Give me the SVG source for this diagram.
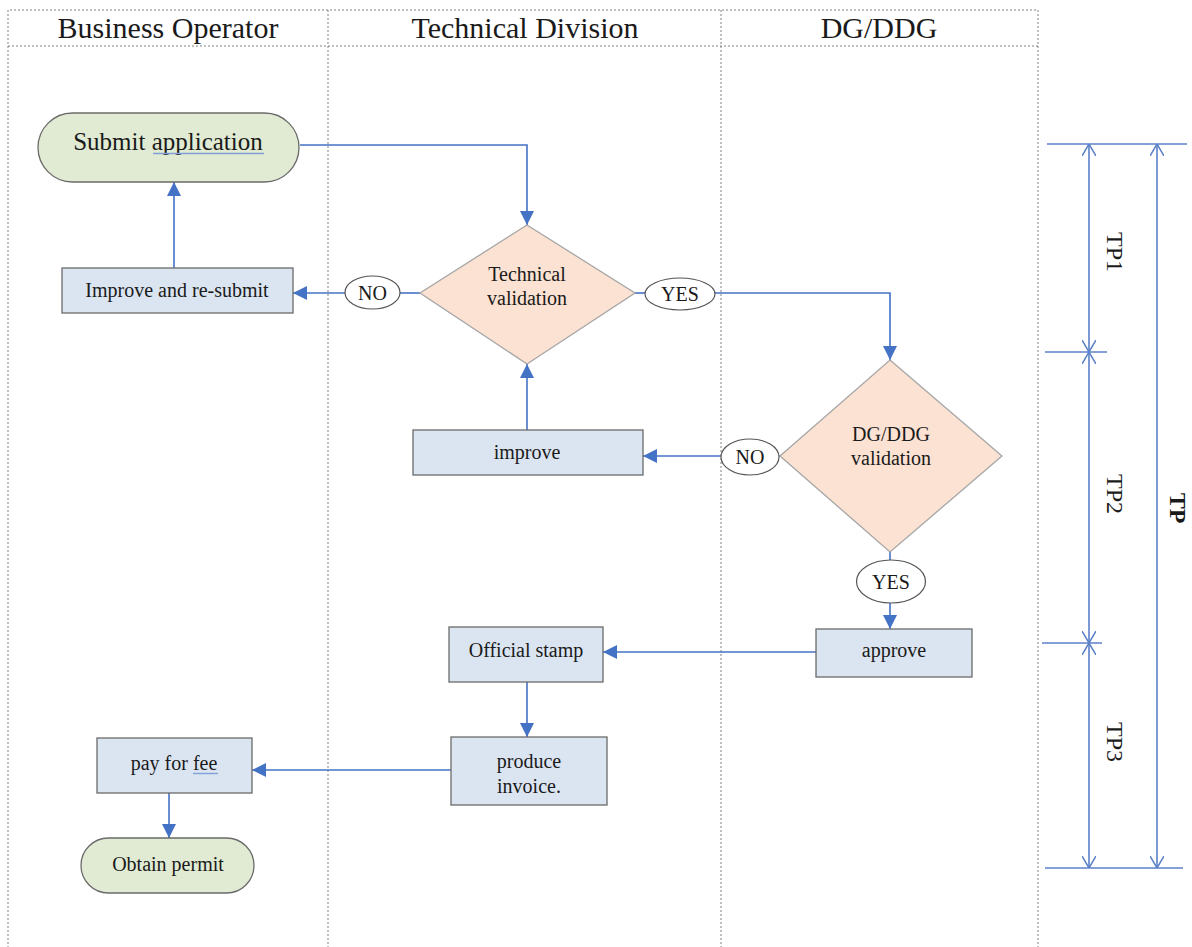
<svg xmlns="http://www.w3.org/2000/svg" width="1192" height="947" viewBox="0 0 1192 947">
  <defs>
    <style>
      .lane { fill: none; stroke: #808080; stroke-width: 1; stroke-dasharray: 2 2; }
      .hdr { font-family: "Liberation Serif", "Times New Roman", serif; font-size: 30px; fill: #1a1a1a; text-anchor: middle; }
      .txt { font-family: "Liberation Serif", "Times New Roman", serif; font-size: 20px; fill: #1a1a1a; text-anchor: middle; }
      .big { font-size: 25px; }
      .box { fill: #dbe5f1; stroke: #6b6b6b; stroke-width: 1.3; }
      .term { fill: #e1ebd3; stroke: #6b6b6b; stroke-width: 1.3; }
      .dec { fill: #fbe2d2; stroke: #a6a6a6; stroke-width: 1.3; }
      .lbl { fill: #ffffff; stroke: #555555; stroke-width: 1.2; }
      .conn { fill: none; stroke: #4472c4; stroke-width: 1.6; }
      .dim { fill: none; stroke: #5b80c8; stroke-width: 1.6; }
      .tp { font-family: "Liberation Serif", "Times New Roman", serif; font-size: 24px; fill: #1a1a1a; text-anchor: middle; }
      .squiggle { fill: none; stroke: #7f9fd6; stroke-width: 1.4; }
    </style>
    <marker id="arrow" markerUnits="userSpaceOnUse" viewBox="0 0 14 14" refX="14" refY="7" markerWidth="14" markerHeight="14" orient="auto">
      <path d="M0,0 L14,7 L0,14 z" fill="#4472c4"/>
    </marker>
    <marker id="open" markerUnits="userSpaceOnUse" viewBox="0 0 12 14" refX="12" refY="7" markerWidth="12" markerHeight="14" orient="auto-start-reverse">
      <path d="M0,0 L12,7 L0,14" fill="none" stroke="#5b80c8" stroke-width="1.5"/>
    </marker>
  </defs>

  <rect width="1192" height="947" fill="#ffffff"/>

  <!-- swimlanes -->
  <g id="lanes">
    <path class="lane" d="M8,960 V10 H1038 V960"/>
    <path class="lane" d="M8,46 H1038"/>
    <path class="lane" d="M328,10 V960"/>
    <path class="lane" d="M721,10 V960"/>
    <text class="hdr" x="168" y="38">Business Operator</text>
    <text class="hdr" x="525" y="38">Technical Division</text>
    <text class="hdr" x="879" y="38">DG/DDG</text>
  </g>

  <!-- connectors -->
  <g id="connectors">
    <path class="conn" d="M300,145 H527 V225" marker-end="url(#arrow)"/>
    <path class="conn" d="M420,293 H400"/>
    <path class="conn" d="M345,293 H293" marker-end="url(#arrow)"/>
    <path class="conn" d="M174,268 V182" marker-end="url(#arrow)"/>
    <path class="conn" d="M635,293 H645"/>
    <path class="conn" d="M715,293 H890 V360" marker-end="url(#arrow)"/>
    <path class="conn" d="M780,456 H779"/>
    <path class="conn" d="M721,456 H643" marker-end="url(#arrow)"/>
    <path class="conn" d="M527,430 V364" marker-end="url(#arrow)"/>
    <path class="conn" d="M890,552 V560"/>
    <path class="conn" d="M890,603 V629" marker-end="url(#arrow)"/>
    <path class="conn" d="M816,652 H603" marker-end="url(#arrow)"/>
    <path class="conn" d="M527,682 V737" marker-end="url(#arrow)"/>
    <path class="conn" d="M451,770 H252" marker-end="url(#arrow)"/>
    <path class="conn" d="M169,793 V838" marker-end="url(#arrow)"/>
  </g>

  <!-- nodes -->
  <g id="submit">
    <rect class="term" x="38" y="113" width="261" height="69" rx="34.5"/>
    <text class="txt big" x="168" y="150">Submit application</text>
    <path class="squiggle" d="M153,153.5 H264"/>
  </g>
  <g id="resubmit">
    <rect class="box" x="62" y="268" width="231" height="45"/>
    <text class="txt" x="177" y="297">Improve and re-submit</text>
  </g>
  <g id="no-tech">
    <ellipse class="lbl" cx="372.5" cy="292.5" rx="27.5" ry="16.5"/>
    <text class="txt" x="372.5" y="300">NO</text>
  </g>
  <g id="tech-validation">
    <polygon class="dec" points="527,225 635,293 527,364 420,293"/>
    <text class="txt" x="527" y="281">Technical</text>
    <text class="txt" x="527" y="305">validation</text>
  </g>
  <g id="yes-tech">
    <ellipse class="lbl" cx="680" cy="294" rx="35" ry="16"/>
    <text class="txt" x="680" y="301">YES</text>
  </g>
  <g id="improve">
    <rect class="box" x="413" y="430" width="230" height="45"/>
    <text class="txt" x="527" y="459">improve</text>
  </g>
  <g id="no-dg">
    <ellipse class="lbl" cx="750" cy="457" rx="29" ry="18"/>
    <text class="txt" x="750" y="464">NO</text>
  </g>
  <g id="dg-validation">
    <polygon class="dec" points="890,360 1002,456 890,552 780,456"/>
    <text class="txt" x="891" y="441">DG/DDG</text>
    <text class="txt" x="891" y="465">validation</text>
  </g>
  <g id="yes-dg">
    <ellipse class="lbl" cx="891" cy="581.5" rx="34.5" ry="21.5"/>
    <text class="txt" x="891" y="589">YES</text>
  </g>
  <g id="approve">
    <rect class="box" x="816" y="629" width="156" height="48"/>
    <text class="txt" x="894" y="657">approve</text>
  </g>
  <g id="stamp">
    <rect class="box" x="449" y="627" width="154" height="55"/>
    <text class="txt" x="526" y="657">Official stamp</text>
  </g>
  <g id="invoice">
    <rect class="box" x="451" y="737" width="156" height="68"/>
    <text class="txt" x="529" y="768">produce</text>
    <text class="txt" x="529" y="793">invoice.</text>
  </g>
  <g id="pay">
    <rect class="box" x="97" y="738" width="155" height="55"/>
    <text class="txt" x="174" y="770">pay for fee</text>
    <path class="squiggle" d="M193,773.5 H218"/>
  </g>
  <g id="permit">
    <rect class="term" x="81" y="838" width="173" height="55" rx="27.5"/>
    <text class="txt" x="168" y="871">Obtain permit</text>
  </g>

  <!-- time-period dimension lines -->
  <g id="timeline">
    <path class="dim" d="M1047,144 H1187"/>
    <path class="dim" d="M1045,352 H1107"/>
    <path class="dim" d="M1042,643 H1102"/>
    <path class="dim" d="M1045,868 H1183"/>
    <path class="dim" d="M1089,144 V352" marker-start="url(#open)" marker-end="url(#open)"/>
    <path class="dim" d="M1089,352 V643" marker-start="url(#open)" marker-end="url(#open)"/>
    <path class="dim" d="M1089,643 V868" marker-start="url(#open)" marker-end="url(#open)"/>
    <path class="dim" d="M1157,144 V868" marker-start="url(#open)" marker-end="url(#open)"/>
    <text class="tp" transform="translate(1107,252) rotate(90)">TP1</text>
    <text class="tp" transform="translate(1107,494) rotate(90)">TP2</text>
    <text class="tp" transform="translate(1107,742) rotate(90)">TP3</text>
    <text class="tp" font-weight="bold" font-size="26" transform="translate(1170,508) rotate(90)">TP</text>
  </g>
</svg>
